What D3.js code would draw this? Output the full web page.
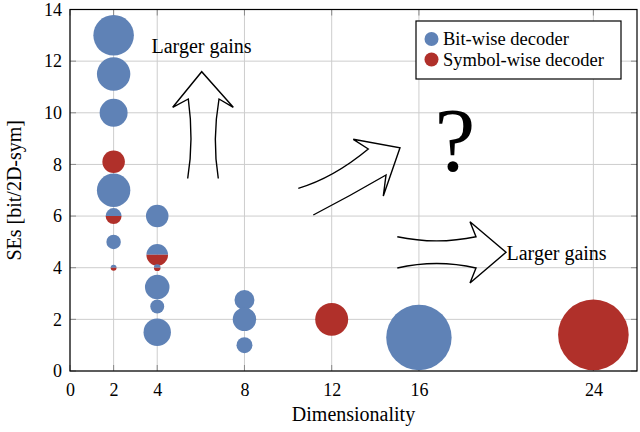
<!DOCTYPE html>
<html>
<head>
<meta charset="utf-8">
<script src="https://cdn.jsdelivr.net/npm/d3@7"></script>
<style>
  html, body { margin: 0; padding: 0; background: #fff; }
  svg { display: block; }
  text { font-family: "Liberation Serif", "Times New Roman", serif; fill: #000; }
</style>
</head>
<body>
<svg id="chart" width="640" height="432"></svg>
<script>
// ---- Data ----
const dimensions = [2, 2, 2, 2, 2, 2, 2, 2, 4, 4, 4, 4, 4, 4, 8, 8, 8, 12, 16, 24];
const spectralEff = [13, 11.5, 10, 8.1, 7, 6, 5, 4, 6, 4.5, 4, 3.25, 2.5, 1.5, 2.75, 2, 1, 2, 1.3, 1.4];
const bubbleSize = [33, 22.4, 15.7, 10.2, 22.4, 5.1, 4.2, 0.7, 10.2, 9.4, 0.9, 12.1, 3.9, 15.1, 8.0, 11.0, 5.1, 21.8, 85.8, 100];
const decoderType = ["bit", "bit", "bit", "sym", "bit", "both", "bit", "both", "bit", "both", "both", "bit", "bit", "bit", "bit", "bit", "bit", "sym", "bit", "sym"];
const xTicks = [0, 2, 4, 8, 12, 16, 24];
const yTicks = [0, 2, 4, 6, 8, 10, 12, 14];
const legendLabels = ["Bit-wise decoder", "Symbol-wise decoder"];
const colors = { bit: "#5f82b6", sym: "#b0302a" };

// ---- Layout ----
const svg = d3.select("#chart");
const L = 70, R = 637, T = 9.5, B = 371;
const x = d3.scaleLinear().domain([0, 26]).range([L, R]);
const y = d3.scaleLinear().domain([0, 14]).range([B, T]);
const r = d3.scaleSqrt().domain([0, 100]).range([0, 35.3]);

// grid
const grid = svg.append("g");
grid.selectAll(".gx").data(xTicks).enter().append("line")
  .attr("x1", d => x(d)).attr("x2", d => x(d)).attr("y1", T).attr("y2", B)
  .attr("stroke", "#cdcdcd").attr("stroke-width", 1);
grid.selectAll(".gy").data(yTicks).enter().append("line")
  .attr("x1", L).attr("x2", R).attr("y1", d => y(d)).attr("y2", d => y(d))
  .attr("stroke", "#cdcdcd").attr("stroke-width", 1);

// inner ticks
const tk = svg.append("g").attr("stroke", "#8a8a8a").attr("stroke-width", 1);
xTicks.forEach(d => {
  tk.append("line").attr("x1", x(d)).attr("x2", x(d)).attr("y1", B).attr("y2", B - 6);
  tk.append("line").attr("x1", x(d)).attr("x2", x(d)).attr("y1", T).attr("y2", T + 6);
});
yTicks.forEach(d => {
  tk.append("line").attr("x1", L).attr("x2", L + 6).attr("y1", y(d)).attr("y2", y(d));
  tk.append("line").attr("x1", R).attr("x2", R - 6).attr("y1", y(d)).attr("y2", y(d));
});

// tick labels via axes (no domain lines)
const xAxis = svg.append("g").attr("transform", `translate(0,${B})`)
  .call(d3.axisBottom(x).tickValues(xTicks).tickSize(0).tickPadding(12).tickFormat(d3.format("d")));
xAxis.select(".domain").remove();
xAxis.selectAll("text").attr("font-size", 18).attr("font-family", "Liberation Serif, serif").attr("fill", "#000");

const yAxis = svg.append("g").attr("transform", `translate(${L},0)`)
  .call(d3.axisLeft(y).tickValues(yTicks).tickSize(0).tickPadding(8).tickFormat(d3.format("d")));
yAxis.select(".domain").remove();
yAxis.selectAll("text").attr("font-size", 18).attr("font-family", "Liberation Serif, serif").attr("fill", "#000");

// bubbles
const pts = dimensions.map((d, i) => ({ dim: d, se: spectralEff[i], size: bubbleSize[i], type: decoderType[i] }));
const bub = svg.append("g");
const arcTop = d3.arc().innerRadius(0).startAngle(-Math.PI / 2).endAngle(Math.PI / 2);
const arcBot = d3.arc().innerRadius(0).startAngle(Math.PI / 2).endAngle(3 * Math.PI / 2);
pts.forEach(p => {
  const cx = x(p.dim), cy = y(p.se), rr = r(p.size);
  if (p.type === "both") {
    bub.append("path").attr("transform", `translate(${cx},${cy})`)
      .attr("d", arcTop({ outerRadius: rr })).attr("fill", colors.bit);
    bub.append("path").attr("transform", `translate(${cx},${cy})`)
      .attr("d", arcBot({ outerRadius: rr })).attr("fill", colors.sym);
  } else {
    bub.append("circle").attr("cx", cx).attr("cy", cy).attr("r", rr).attr("fill", colors[p.type]);
  }
});

// frame
svg.append("rect").attr("x", L).attr("y", T).attr("width", R - L).attr("height", B - T)
  .attr("fill", "none").attr("stroke", "#000").attr("stroke-width", 1.2);

// annotations (arrows, in pixel space of the chart)
const ann = svg.append("g").attr("fill", "none").attr("stroke", "#000").attr("stroke-width", 1.4)
  .attr("stroke-linejoin", "miter");
// upward arrow
ann.append("path").attr("d",
  "M187.7,178.5 Q194,140 188.3,99 L172.7,107.3 L201.7,71.7 L233.3,107.3 L219,99 Q212,140 218.3,178.5");
// diagonal arrow
ann.append("path").attr("d",
  "M298.3,188.3 Q333.3,178 368.3,149 L353.3,139.3 L400,147.7 L383.3,196 L386,175 Q350,196 313.3,215");
// right arrow
ann.append("path").attr("d",
  "M397.3,236.7 Q436.7,245 476,236.7 L470,221.7 L506,252.3 L470,283 L476,268 Q436.7,259 397.3,268");

svg.append("text").attr("x", 151.5).attr("y", 53).attr("font-size", 20).text("Larger gains");
svg.append("text").attr("x", 506.5).attr("y", 260).attr("font-size", 20).text("Larger gains");
svg.append("text").attr("x", 455).attr("y", 171).attr("font-size", 92).attr("text-anchor", "middle").text("?");

// legend
const lg = svg.append("g");
lg.append("rect").attr("x", 416).attr("y", 21).attr("width", 205).attr("height", 58)
  .attr("fill", "#fff").attr("stroke", "#000").attr("stroke-width", 1.2);
legendLabels.forEach((lab, i) => {
  const yy = 39 + i * 20.5;
  lg.append("circle").attr("cx", 431.5).attr("cy", yy).attr("r", 7)
    .attr("fill", i === 0 ? colors.bit : colors.sym);
  lg.append("text").attr("x", 443).attr("y", yy + 6).attr("font-size", 18.5).text(lab);
});

// axis labels
svg.append("text").attr("x", (L + R) / 2).attr("y", 421).attr("text-anchor", "middle")
  .attr("font-size", 20).text("Dimensionality");
svg.append("text").attr("transform", `translate(21,${(T + B) / 2}) rotate(-90)`)
  .attr("text-anchor", "middle").attr("font-size", 20).text("SEs [bit/2D-sym]");
</script>
</body>
</html>
